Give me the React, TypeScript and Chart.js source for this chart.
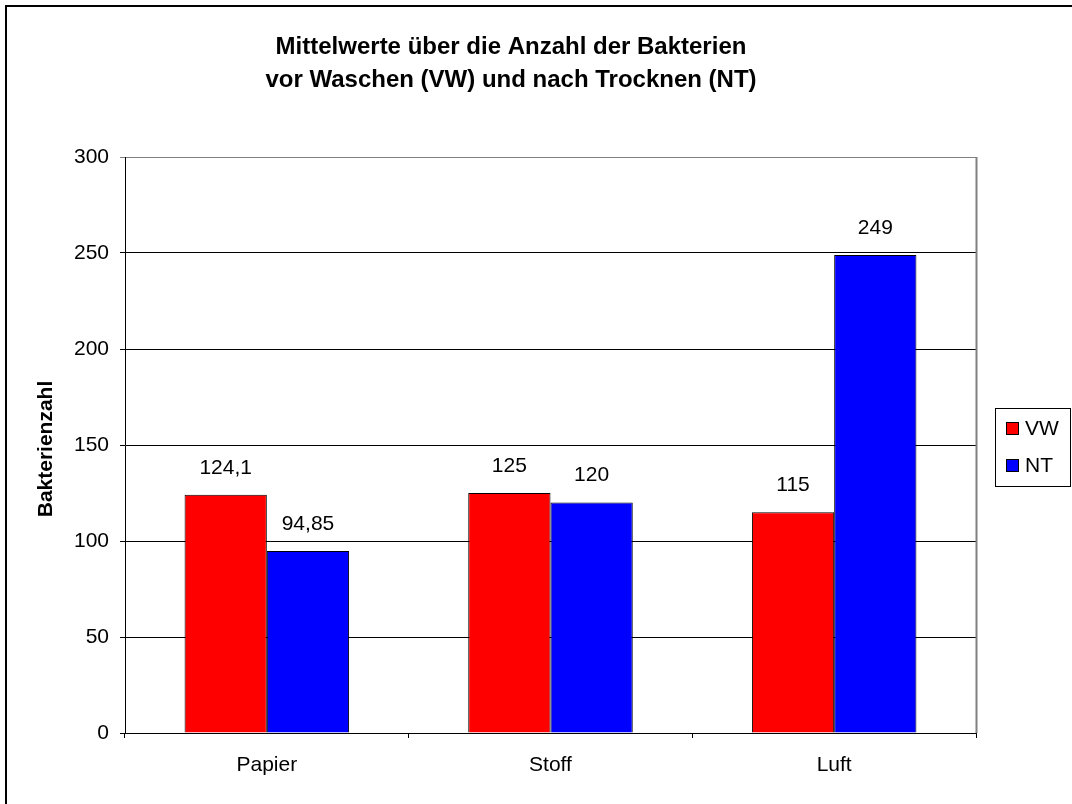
import React, { useEffect, useRef } from "react";
import { Chart, registerables } from "chart.js";

Chart.register(...registerables);

const titleLines = ["Mittelwerte über die Anzahl der Bakterien", "vor Waschen (VW) und nach Trocknen (NT)"];
const yAxisTitle = "Bakterienzahl";
const categories = ["Papier", "Stoff", "Luft"];
const seriesNames = ["VW", "NT"];
const vwValues = [124.1, 125, 115];
const ntValues = [94.85, 120, 249];
const seriesColors = ["#FF0000", "#0000FF"];
const yMin = 0;
const yMax = 300;
const yStep = 50;

const FONT = "'Liberation Sans', Arial, sans-serif";

const fmt = (v: number) => String(v).replace(".", ",");

const decorPlugin = {
  id: "decor",
  afterDraw(chart: any) {
    const ctx = chart.ctx as CanvasRenderingContext2D;
    const area = chart.chartArea;
    ctx.save();
    // outer frame (left & top)
    ctx.fillStyle = "#000";
    ctx.fillRect(5, 5, 2, 804);
    ctx.fillRect(5, 5, 1072, 2);

    // plot area right border (gray)
    ctx.strokeStyle = "#808080";
    ctx.lineWidth = 2;
    ctx.beginPath();
    ctx.moveTo(Math.round(area.right) + 0.5, area.top);
    ctx.lineTo(Math.round(area.right) + 0.5, area.bottom);
    ctx.stroke();

    // title
    ctx.fillStyle = "#000";
    ctx.font = `bold 24px ${FONT}`;
    ctx.textAlign = "center";
    ctx.textBaseline = "alphabetic";
    ctx.fillText(titleLines[0], 511, 54);
    ctx.fillText(titleLines[1], 511, 87);

    // y axis title
    ctx.save();
    ctx.translate(46, 449);
    ctx.rotate(-Math.PI / 2);
    ctx.font = `bold 21px ${FONT}`;
    ctx.textAlign = "center";
    ctx.textBaseline = "middle";
    ctx.fillText(yAxisTitle, 0, 0);
    ctx.restore();

    // data labels
    ctx.font = `21px ${FONT}`;
    ctx.textAlign = "center";
    ctx.textBaseline = "middle";
    chart.data.datasets.forEach((ds: any, di: number) => {
      const meta = chart.getDatasetMeta(di);
      meta.data.forEach((bar: any, i: number) => {
        ctx.fillText(fmt(ds.data[i]), bar.x, bar.y - 27);
      });
    });

    // legend
    ctx.strokeStyle = "#000";
    ctx.lineWidth = 1;
    ctx.strokeRect(995.5, 408.5, 75, 78);
    seriesNames.forEach((name, i) => {
      const y = 422 + i * 37;
      ctx.fillStyle = seriesColors[i];
      ctx.fillRect(1006, y, 13, 13);
      ctx.strokeStyle = "#000";
      ctx.strokeRect(1006.5, y + 0.5, 12, 12);
      ctx.fillStyle = "#000";
      ctx.font = `21px ${FONT}`;
      ctx.textAlign = "left";
      ctx.textBaseline = "middle";
      ctx.fillText(name, 1025, y + 7);
    });
    ctx.restore();
  },
};

export default function App() {
  const ref = useRef<HTMLCanvasElement>(null);
  useEffect(() => {
    if (!ref.current) return;
    const chart = new Chart(ref.current, {
      type: "bar",
      data: {
        labels: categories,
        datasets: [
          {
            label: seriesNames[0],
            data: vwValues,
            backgroundColor: seriesColors[0],
            borderColor: "#000",
            borderWidth: 1,
            categoryPercentage: 0.58,
            barPercentage: 1,
          },
          {
            label: seriesNames[1],
            data: ntValues,
            backgroundColor: seriesColors[1],
            borderColor: "#000",
            borderWidth: 1,
            categoryPercentage: 0.58,
            barPercentage: 1,
          },
        ],
      },
      options: {
        animation: false,
        responsive: false,
        devicePixelRatio: 1,
        layout: { padding: { top: 157, right: 96, left: 0, bottom: 0 } },
        plugins: {
          legend: { display: false },
          title: { display: false },
          tooltip: { enabled: false },
        },
        scales: {
          x: {
            grid: {
              display: true,
              drawOnChartArea: false,
              drawTicks: true,
              offset: true,
              tickLength: 5,
              color: "#000",
            },
            border: { display: true, color: "#000", width: 1 },
            ticks: {
              color: "#000",
              font: { family: FONT, size: 21 },
              padding: 15,
              maxRotation: 0,
            },
            afterFit: (scale: any) => {
              scale.height = 71;
            },
          },
          y: {
            min: yMin,
            max: yMax,
            ticks: {
              stepSize: yStep,
              color: "#000",
              font: { family: FONT, size: 21 },
              padding: 11,
            },
            grid: {
              color: (c: any) => (c.tick && c.tick.value === yMax ? "#808080" : "#000"),
              tickLength: 5,
              drawTicks: true,
            },
            border: { display: true, color: "#000", width: 1 },
            afterFit: (scale: any) => {
              scale.width = 125;
            },
          },
        },
      },
      plugins: [decorPlugin],
    });
    return () => chart.destroy();
  }, []);
  return (
    <div style={{ position: "absolute", left: 0, top: 0, width: 1072, height: 804, background: "#fff" }}>
      <canvas ref={ref} width={1072} height={804} style={{ width: 1072, height: 804, display: "block" }} />
    </div>
  );
}
